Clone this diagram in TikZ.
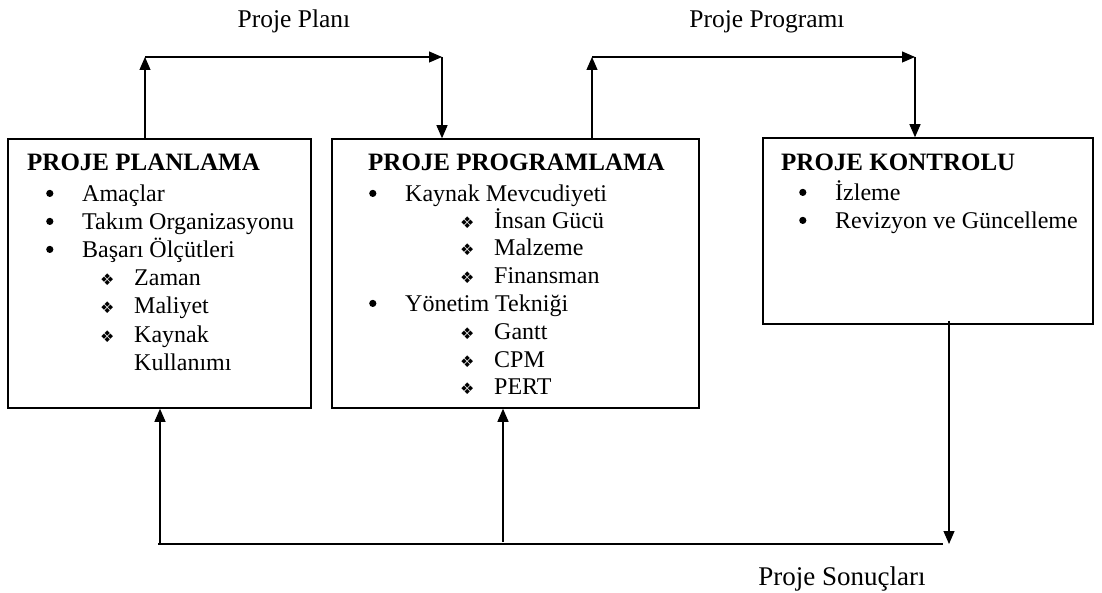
\documentclass[tikz,border=0pt]{standalone}
\usepackage{fontspec}
\setmainfont{Liberation Serif}
\newfontfamily\symfont{DejaVu Sans}
\usetikzlibrary{arrows.meta}

% list markers: round dot for first level, ornament for second level
\newcommand{\dotmark}{\raisebox{5pt}{\tikz\fill (0,0) circle (3.6pt);}}
\newcommand{\lone}[1]{\makebox[36pt][l]{\dotmark}#1}
\newcommand{\ltwo}[1]{\makebox[34pt][l]{\smash{\symfont\fontsize{16}{16}\selectfont ❖}}#1}

\begin{document}
\begin{tikzpicture}[x=1pt,y=-1pt,
  boxn/.style={draw, line width=1.5pt, inner sep=0pt},
  ttl/.style={anchor=base west, inner sep=0pt, font=\fontsize{25}{30}\selectfont\bfseries},
  lst/.style={anchor=base west, inner sep=0pt, font=\fontsize{24}{28}\selectfont},
  lbl/.style={anchor=base, inner sep=0pt, font=\fontsize{25.5}{30}\selectfont},
  conn/.style={line width=1.1pt},
  arr/.style={conn, -{Triangle[length=13pt,width=11pt]}}]
\useasboundingbox (0,0) rectangle (1102,593);

% the three phase boxes
\node[boxn, minimum width=303pt, minimum height=269pt] (plan) at (159.5,273.5) {};
\node[boxn, minimum width=367pt, minimum height=269pt] (prog) at (515.5,273.5) {};
\node[boxn, minimum width=330pt, minimum height=186pt] (kont) at (928,231) {};

% PROJE PLANLAMA
\node[ttl] (t1) at (27,171) {PROJE PLANLAMA};
\node[lst] (a1) at (46,202) {\lone{Amaçlar}};
\node[lst] (a2) at (46,230) {\lone{Takım Organizasyonu}};
\node[lst] (a3) at (46,258) {\lone{Başarı Ölçütleri}};
\node[lst] (a4) at (100,286) {\ltwo{Zaman}};
\node[lst] (a5) at (100,314) {\ltwo{Maliyet}};
\node[lst] (a6) at (100,342) {\ltwo{Kaynak}};
\node[lst] (a7) at (134,370) {Kullanımı};

% PROJE PROGRAMLAMA
\node[ttl] (t2) at (368,171) {PROJE PROGRAMLAMA};
\node[lst] (b1) at (369,202) {\lone{Kaynak Mevcudiyeti}};
\node[lst] (b2) at (460,229) {\ltwo{İnsan Gücü}};
\node[lst] (b3) at (460,256) {\ltwo{Malzeme}};
\node[lst] (b4) at (460,284) {\ltwo{Finansman}};
\node[lst] (b5) at (369,312) {\lone{Yönetim Tekniği}};
\node[lst] (b6) at (460,339) {\ltwo{Gantt}};
\node[lst] (b7) at (460,367) {\ltwo{CPM}};
\node[lst] (b8) at (460,394) {\ltwo{PERT}};

% PROJE KONTROLU
\node[ttl] (t3) at (781,171) {PROJE KONTROLU};
\node[lst] (c1) at (799,201) {\lone{İzleme}};
\node[lst] (c2) at (799,229) {\lone{Revizyon ve Güncelleme}};

% flow labels
\node[lbl] (l1) at (294,28) {Proje Planı};
\node[lbl] (l2) at (767,28) {Proje Programı};
\node[lbl, font=\fontsize{27}{30}\selectfont] (l3) at (842,585) {Proje Sonuçları};

% corner points of the connectors
\coordinate (p1) at (145,57);
\coordinate (p2) at (442,57);
\coordinate (p3) at (592,57);
\coordinate (p4) at (915,57);
\coordinate (q1) at (949,321);
\coordinate (q2) at (949,544);
\coordinate (r1) at (158,544);
\coordinate (r2) at (943,544);
\coordinate (s1) at (160,544);
\coordinate (s2) at (503,542);

% planning -> programming
\draw[arr] (plan.north -| p1) -- (p1);
\draw[arr] (p1) -- (p2);
\draw[arr] (p2) -- (p2 |- prog.north);

% programming -> control
\draw[arr] (prog.north -| p3) -- (p3);
\draw[arr] (p3) -- (p4);
\draw[arr] (p4) -- (p4 |- kont.north);

% results feed back to planning and programming
\draw[arr] (q1) -- (q2);
\draw[conn, line width=1.5pt] (r1) -- (r2);
\draw[arr] (s1) -- (s1 |- plan.south);
\draw[arr] (s2) -- (s2 |- prog.south);
\end{tikzpicture}
\end{document}
